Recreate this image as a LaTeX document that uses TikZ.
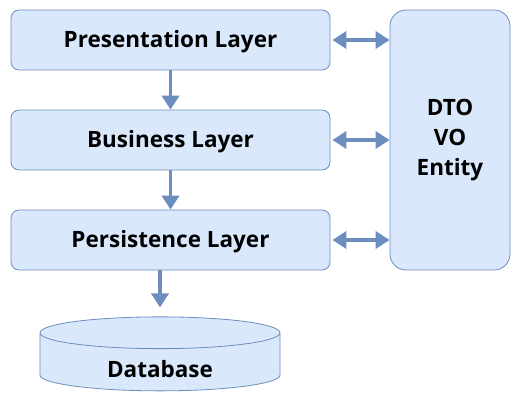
\documentclass[tikz,border=0pt]{standalone}
\usepackage{fontspec}
\setmainfont{Open Sans}
\usetikzlibrary{arrows.meta,shapes.geometric}
\definecolor{layerfill}{HTML}{DAE8FC}
\definecolor{layerdraw}{HTML}{6C8EBF}
\tikzstyle{layer}=[rectangle,rounded corners=8pt,fill=layerfill,draw=layerdraw,line width=0.8pt,minimum width=319pt,minimum height=60pt,inner sep=0pt,anchor=center,font=\fontsize{22.5}{30}\selectfont\bfseries]
\tikzstyle{flow}=[layerdraw,line width=3.5pt,-{Triangle[length=14pt,width=17pt]}]
\tikzstyle{link}=[layerdraw,line width=3.5pt,{Triangle[length=14pt,width=17pt]}-{Triangle[length=14pt,width=17pt]}]

\begin{document}
\begin{tikzpicture}[x=1pt,y=-1pt]
	\useasboundingbox (0,0) rectangle (521,401);

	\node[layer](pres) at (170.5,40){\raisebox{-2pt}[\height][\depth]{Presentation Layer}};
	\node[layer](busi) at (170.5,140){\raisebox{-2pt}[\height][\depth]{Business Layer}};
	\node[layer](pers) at (170.5,240){\raisebox{-2pt}[\height][\depth]{Persistence Layer}};
	\node[layer, rounded corners=16pt, minimum width=120pt, minimum height=260pt, align=center](dto) at (450,140){DTO\\VO\\Entity};

	\node[cylinder, shape border rotate=90, aspect=0.3, fill=layerfill, draw=layerdraw, line width=0.8pt, minimum width=240pt, minimum height=74pt, inner sep=0pt, font=\fontsize{22.5}{30}\selectfont\bfseries](db) at (160,362){\raisebox{-7pt}[\height][\depth]{Database}};

	% layers going down
	\draw[flow] (pres.south) -- (busi.north);
	\draw[flow] (busi.south) -- (pers.north);
	\draw[flow, shorten >=9pt] (pers.south -| db.north) -- (db.north);

	% shared objects
	\draw[link] (pres.east) ++(2,0) -- (pres.east -| dto.west);
	\draw[link] (busi.east) ++(2,0) -- (busi.east -| dto.west);
	\draw[link] (pers.east) ++(2,0) -- (pers.east -| dto.west);
\end{tikzpicture}
\end{document}
